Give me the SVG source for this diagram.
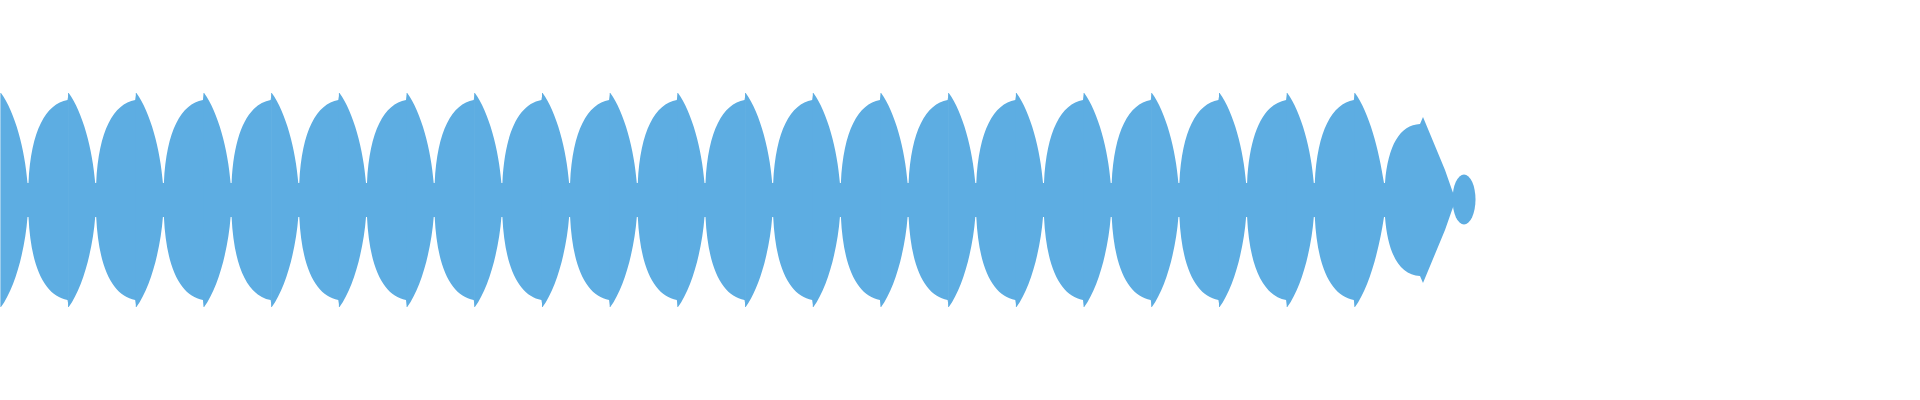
<svg xmlns="http://www.w3.org/2000/svg" xmlns:xlink="http://www.w3.org/1999/xlink" width="1920" height="400" viewBox="0 0 1920 400">
<style>.w{fill:#5DADE2}</style>
<defs>
<path id="p" class="w" d="M-0.6,93 L0,93 C14,112 24,150 26.5,183 L27.5,183 C30,130 45,104 66.5,100 L67.7,93 L67.7,307 L66.5,300 C45,296 30,270 27.5,217 L26.5,217 C24,250 14,288 0,307 L-0.6,307 Z"/>
</defs>
<rect width="1920" height="400" fill="#fff"/>
<g id="wave">
<use href="#p" transform="translate(1,0)"/>
<use href="#p" transform="translate(68.7,0)"/>
<use href="#p" transform="translate(136.4,0)"/>
<use href="#p" transform="translate(204.1,0)"/>
<use href="#p" transform="translate(271.8,0)"/>
<use href="#p" transform="translate(339.5,0)"/>
<use href="#p" transform="translate(407.2,0)"/>
<use href="#p" transform="translate(474.9,0)"/>
<use href="#p" transform="translate(542.6,0)"/>
<use href="#p" transform="translate(610.3,0)"/>
<use href="#p" transform="translate(678,0)"/>
<use href="#p" transform="translate(745.7,0)"/>
<use href="#p" transform="translate(813.4,0)"/>
<use href="#p" transform="translate(881.1,0)"/>
<use href="#p" transform="translate(948.8,0)"/>
<use href="#p" transform="translate(1016.5,0)"/>
<use href="#p" transform="translate(1084.2,0)"/>
<use href="#p" transform="translate(1151.9,0)"/>
<use href="#p" transform="translate(1219.6,0)"/>
<use href="#p" transform="translate(1287.3,0)"/>
<path class="w" d="M1354.4,93 L1355,93 C1369,112 1379,150 1384,183 L1385,183 C1388,145 1400,125 1420,124 L1423,117 L1445,170 L1452,190 L1455,198 L1455,202 L1452,210 L1445,230 L1423,283 L1420,276 C1400,275 1388,255 1385,217 L1384,217 C1379,250 1369,288 1355,307 L1354.4,307 Z"/>
<ellipse class="w" cx="1464" cy="199.5" rx="11.5" ry="25"/>
</g>
</svg>
